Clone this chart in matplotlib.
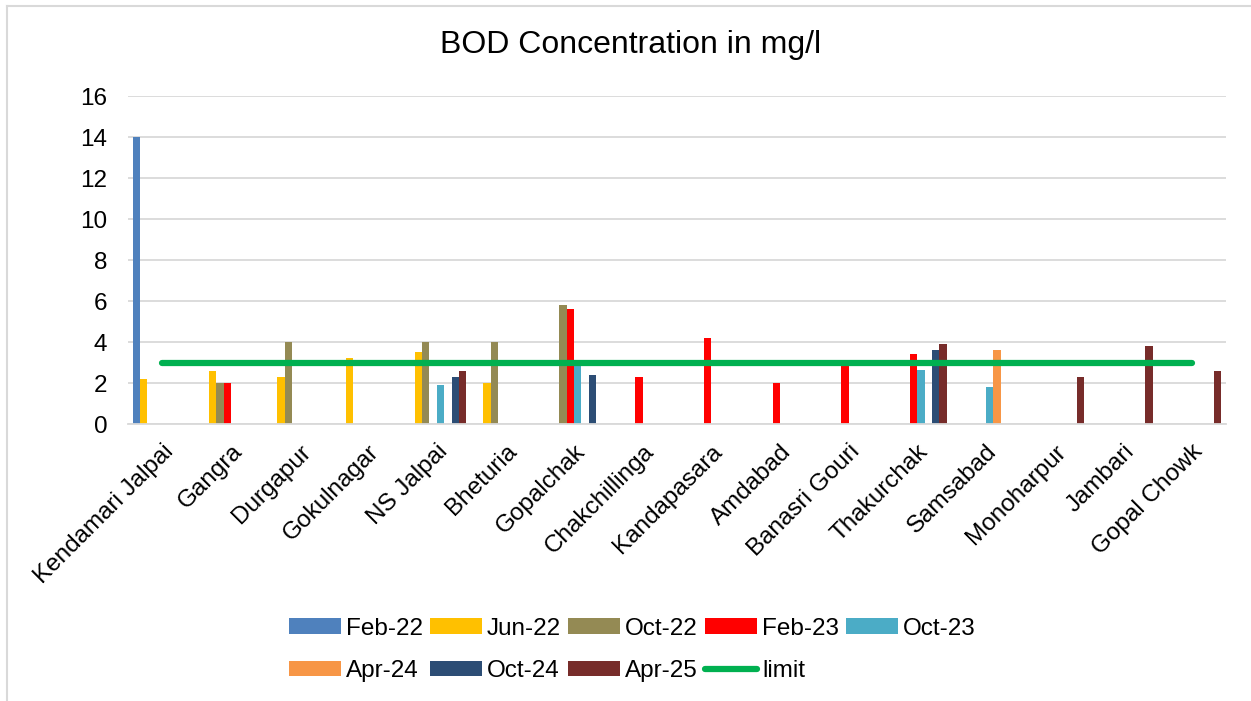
import numpy as np
import matplotlib
matplotlib.use("Agg")
import matplotlib.pyplot as plt
from matplotlib.lines import Line2D

plt.rcParams['font.family'] = ['Liberation Sans', 'DejaVu Sans']

nan = np.nan
categories = ["Kendamari Jalpai", "Gangra", "Durgapur", "Gokulnagar", "NS Jalpai",
              "Bheturia", "Gopalchak", "Chakchillinga", "Kandapasara", "Amdabad",
              "Banasri Gouri", "Thakurchak", "Samsabad", "Monoharpur", "Jambari",
              "Gopal Chowk"]

feb22 = [14.0, nan, nan, nan, nan, nan, nan, nan, nan, nan, nan, nan, nan, nan, nan, nan]
jun22 = [2.2, 2.6, 2.3, 3.2, 3.5, 2.0, nan, nan, nan, nan, nan, nan, nan, nan, nan, nan]
oct22 = [nan, 2.0, 4.0, nan, 4.0, 4.0, 5.8, nan, nan, nan, nan, nan, nan, nan, nan, nan]
feb23 = [nan, 2.0, nan, nan, nan, nan, 5.6, 2.3, 4.2, 2.0, 3.1, 3.4, nan, nan, nan, nan]
oct23 = [nan, nan, nan, nan, 1.9, nan, 2.9, nan, nan, nan, nan, 2.65, 1.8, nan, nan, nan]
apr24 = [nan, nan, nan, nan, nan, nan, nan, nan, nan, nan, nan, nan, 3.6, nan, nan, nan]
oct24 = [nan, nan, nan, nan, 2.3, nan, 2.4, nan, nan, nan, nan, 3.6, nan, nan, nan, nan]
apr25 = [nan, nan, nan, nan, 2.6, nan, nan, nan, nan, nan, nan, 3.9, nan, 2.3, 3.8, 2.6]
limit = [3, 3, 3, 3, 3, 3, 3, 3, 3, 3, 3, 3, 3, 3, 3, 3]

series_names = ["Feb-22", "Jun-22", "Oct-22", "Feb-23", "Oct-23", "Apr-24", "Oct-24", "Apr-25"]
series_vals = [feb22, jun22, oct22, feb23, oct23, apr24, oct24, apr25]
colors = ["#4F81BD", "#FFC000", "#948A54", "#FF0000", "#4BACC6", "#F79646", "#2C4D75", "#772C2A"]
limit_color = "#00B050"
yticks = [0, 2, 4, 6, 8, 10, 12, 14, 16]

W, H = 1251, 701
fig = plt.figure(figsize=(W / 100, H / 100), dpi=100)
ax = fig.add_axes([128 / W, 1 - 424 / H, (1226 - 128) / W, (424 - 96) / H])

x = np.arange(len(categories))
bw = 0.108
handles = {}
for j, (name, vals, c) in enumerate(zip(series_names, series_vals, colors)):
    off = (j - 3.5) * bw
    b = ax.bar(x + off, np.array(vals, dtype=float), width=bw, color=c, label=name, zorder=2)
    handles[name] = b
ln, = ax.plot(x, limit, color=limit_color, lw=4.5, solid_capstyle='round', zorder=3, label='limit')
handles['limit'] = ln

ax.set_xlim(-0.5, len(categories) - 0.5)
ax.set_ylim(0, 16)
ax.set_yticks(yticks)
ax.set_yticklabels([str(v) for v in yticks])
ax.yaxis.grid(True, color="#D9D9D9", lw=1.3, zorder=0)
ax.set_axisbelow(True)
for s in ['top', 'right', 'left']:
    ax.spines[s].set_visible(False)
ax.spines['bottom'].set_color("#D9D9D9")
ax.spines['bottom'].set_linewidth(1.3)
ax.tick_params(axis='both', length=0, labelsize=17.5, colors='black')
ax.tick_params(axis='y', pad=15)
ax.set_xticks(x)
ax.set_xticklabels(categories, rotation=45, ha='right', va='top', rotation_mode='anchor')
ax.tick_params(axis='x', pad=12)

fig.text(631 / W, 1 - 45 / H, "BOD Concentration in mg/l", ha='center', va='center', fontsize=23)

order = ["Feb-22", "Apr-24", "Jun-22", "Oct-24", "Oct-22", "Apr-25", "Feb-23", "limit", "Oct-23"]
leg = fig.legend([handles[k] for k in order], order, loc='center',
                 bbox_to_anchor=(632.5 / W, 1 - 650 / H), ncol=5, frameon=False,
                 fontsize=17.5, handlelength=2.14, handleheight=0.58, handletextpad=0.2,
                 columnspacing=0.3, labelspacing=0.86, borderpad=0)

# outer chart border (left and top edges visible)
fig.add_artist(Line2D([6.5 / W, 6.5 / W], [0, 1 - 5.5 / H], color="#D9D9D9", lw=1.5))
fig.add_artist(Line2D([6.5 / W, 1], [1 - 5.5 / H, 1 - 5.5 / H], color="#D9D9D9", lw=1.5))

fig.savefig("out.png", dpi=100)
